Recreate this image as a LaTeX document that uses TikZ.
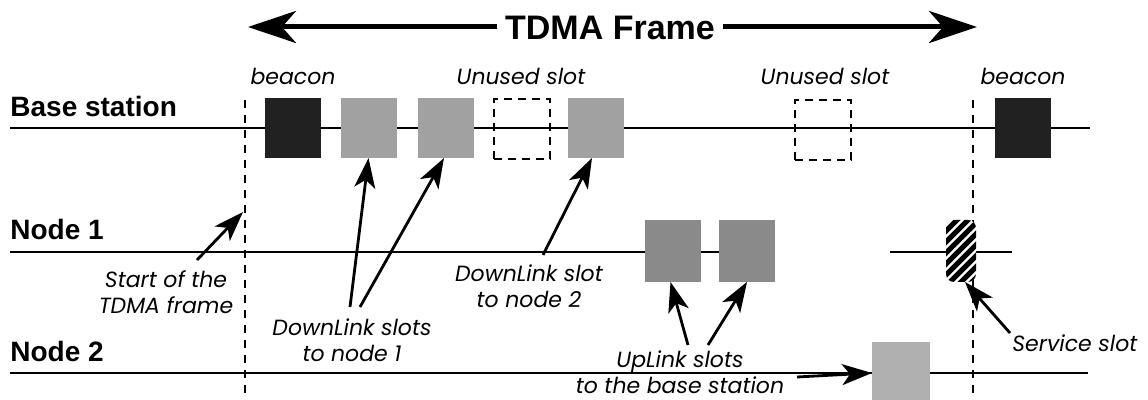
\documentclass[tikz,border=0pt]{standalone}
\usepackage{fontspec}
\setmainfont{Liberation Sans}
\newfontfamily\notefont{Poppins}
\usetikzlibrary{arrows.meta,calc}
\definecolor{BeaconClr}{rgb}{0.13,0.13,0.13}
\definecolor{DownClr}{rgb}{0.63,0.63,0.63}
\definecolor{UpClr}{rgb}{0.54,0.54,0.54}
\definecolor{NodeTwoClr}{rgb}{0.69,0.69,0.69}

\begin{document}
\begin{tikzpicture}[x=0.5pt,y=-0.5pt,
  slot/.style={minimum width=28pt,minimum height=30pt,inner sep=0pt,outer sep=0pt},
  unused/.style={slot,draw,dash pattern=on 4pt off 3pt,line width=0.8pt},
  row/.style={font=\bfseries\fontsize{14}{16}\selectfont,anchor=base west,inner sep=0pt},
  note/.style={font=\notefont\itshape\fontsize{11}{13}\selectfont,align=center,inner sep=0pt},
  tl/.style={line width=1pt},
  frameline/.style={dash pattern=on 4pt off 3.5pt,line width=1pt},
  pointer/.style={line width=1.4pt,-{Stealth[length=15pt,width=10.5pt,inset=4pt]}}]
\useasboundingbox (0,0) rectangle (1148,400);

% TDMA frame arrow
\coordinate (FS) at (248,27);
\coordinate (FE) at (977,27);
\draw[line width=2.5pt,{Stealth[length=24pt,width=16pt,inset=7pt]}-{Stealth[length=24pt,width=16pt,inset=7pt]}] (FS) -- (FE);
\node[fill=white,inner sep=4pt,font=\bfseries\fontsize{17}{19}\selectfont] (title) at (610,28) {TDMA Frame};

% time lines
\draw[tl] (10,128) -- (1090,128);
\draw[tl] (10,252) -- (775,252);
\draw[tl] (890,252) -- (1012,252);
\draw[tl] (10,373) -- (1088,373);

% frame boundaries
\draw[frameline] (245,100) -- (245,400);
\draw[frameline] (973,100) -- (973,400);

\node[row] (bs) at (10,117) {Base station};
\node[row] (n1) at (10,240) {Node 1};
\node[row] (n2) at (10,362) {Node 2};

% base station slots
\node[slot,fill=BeaconClr] (B1) at (292.5,128) {};
\node[slot,fill=DownClr] (D1) at (368.5,128) {};
\node[slot,fill=DownClr] (D2) at (446,128) {};
\node[unused] (U1) at (522,129) {};
\node[slot,fill=DownClr] (D3) at (596,128) {};
\node[unused] (U2) at (823,130) {};
\node[slot,fill=BeaconClr] (B2) at (1022.5,128) {};

% node 1 slots
\node[slot,fill=UpClr,minimum height=31pt] (P1) at (672.5,251) {};
\node[slot,fill=UpClr,minimum height=31pt] (P2) at (747,251) {};
\node[slot,minimum width=15pt,minimum height=31pt,fill=white,rounded corners=4pt] (S) at (961,251) {};
\begin{scope}
\clip[rounded corners=4pt] (S.south west) rectangle (S.north east);
\foreach \k in {0,11,...,110}
  \draw[line width=2.6pt] (936,230+\k) -- (996,170+\k);
\end{scope}

% node 2 slot
\node[slot,fill=NodeTwoClr,minimum width=29pt,minimum height=31pt] (Q1) at (901,373) {};

\node[note] (lb1) at (293,76) {beacon};
\node[note] (lu1) at (521,76) {Unused slot};
\node[note] (lu2) at (825,76) {Unused slot};
\node[note] (lb2) at (1023,76) {beacon};

\node[note] (ls) at (166,292) {Start of the\\TDMA frame};
\node[note] (ld1) at (352,340) {DownLink slots\\to node 1};
\node[note] (ld2) at (529,286) {DownLink slot\\to node 2};
\node[note] (lu) at (680,372) {UpLink slots\\to the base station};
\node[note,anchor=base west] (lsv) at (1012,352) {Service slot};

\coordinate (as) at (197,260);
\coordinate (ad1) at (350,307);
\coordinate (ad2) at (360,307);
\coordinate (ad3) at (543,255);
\coordinate (au1) at (688,345);
\coordinate (au2) at (708,345);
\coordinate (au3) at (797,377);
\coordinate (asv) at (1010,333);

\draw[pointer] (as) -- (243,212);
\draw[pointer] (ad1) -- (D1.south);
\draw[pointer] (ad2) -- ([xshift=-1pt]D2.south);
\draw[pointer] (ad3) -- ([xshift=-2pt]D3.south);
\draw[pointer] (au1) -- ([xshift=-1pt]P1.south);
\draw[pointer] (au2) -- (P2.south);
\draw[pointer] (au3) -- (Q1.west);
\draw[pointer] (asv) -- ([xshift=2pt]S.south);

\end{tikzpicture}
\end{document}
